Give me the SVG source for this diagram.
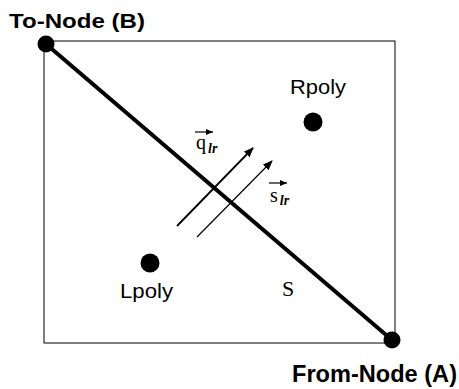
<svg xmlns="http://www.w3.org/2000/svg" width="459" height="389" viewBox="0 0 459 389">
<style>
.lbl{font-family:"Liberation Sans",Arial,sans-serif;font-weight:bold;fill:#000}
.poly{font-family:"Liberation Sans",Arial,sans-serif;fill:#000}
.ser{font-family:"Liberation Serif","Times New Roman",serif;fill:#000}
.dot{fill:#000}
</style>
<defs>
<marker id="ah" markerWidth="10" markerHeight="8" refX="9" refY="4" orient="auto" markerUnits="userSpaceOnUse">
<path d="M0,0 L10,4 L0,8 Z" fill="#000"/>
</marker>
<marker id="sh" markerWidth="7" markerHeight="6" refX="7" refY="3" orient="auto" markerUnits="userSpaceOnUse">
<path d="M0,0 L7,3 L0,6 Z" fill="#000"/>
</marker>
</defs>
<rect x="44" y="41" width="351" height="302" fill="none" stroke="#000" stroke-width="1"/>
<g id="connectors">
<line id="S" x1="46" y1="44" x2="392" y2="340" stroke="#000" stroke-width="4"/>
<line id="q_arrow" x1="177" y1="226" x2="253" y2="148" stroke="#000" stroke-width="1.8" marker-end="url(#ah)"/>
<line id="s_arrow" x1="197" y1="237" x2="272" y2="161" stroke="#000" stroke-width="1.2" marker-end="url(#ah)"/>
</g>
<g id="to-node"><circle class="dot" cx="46" cy="44" r="8.5"/><text class="lbl" x="9" y="28" font-size="21" textLength="136" lengthAdjust="spacingAndGlyphs">To-Node (B)</text></g>
<g id="from-node"><circle class="dot" cx="392" cy="340" r="8.5"/><text class="lbl" x="292" y="382" font-size="23" textLength="165" lengthAdjust="spacingAndGlyphs">From-Node (A)</text></g>
<g id="rpoly"><circle class="dot" cx="313" cy="122" r="9.5"/><text class="poly" x="290" y="94" font-size="20" textLength="56" lengthAdjust="spacingAndGlyphs">Rpoly</text></g>
<g id="lpoly"><circle class="dot" cx="150" cy="263" r="9.5"/><text class="poly" x="120" y="298" font-size="20" textLength="53" lengthAdjust="spacingAndGlyphs">Lpoly</text></g>
<g id="labels">
<text class="ser" x="282" y="296" font-size="22">S</text>
<line x1="195" y1="132" x2="213" y2="132" stroke="#000" stroke-width="1.2" marker-end="url(#sh)"/>
<text class="ser" x="196" y="149" font-size="20">q<tspan font-size="14" font-style="italic" font-weight="bold" dx="2" dy="4">lr</tspan></text>
<line x1="269" y1="183" x2="287" y2="183" stroke="#000" stroke-width="1.2" marker-end="url(#sh)"/>
<text class="ser" x="270" y="202" font-size="20">s<tspan font-size="14" font-style="italic" font-weight="bold" dx="2" dy="3">lr</tspan></text>
</g>
</svg>
